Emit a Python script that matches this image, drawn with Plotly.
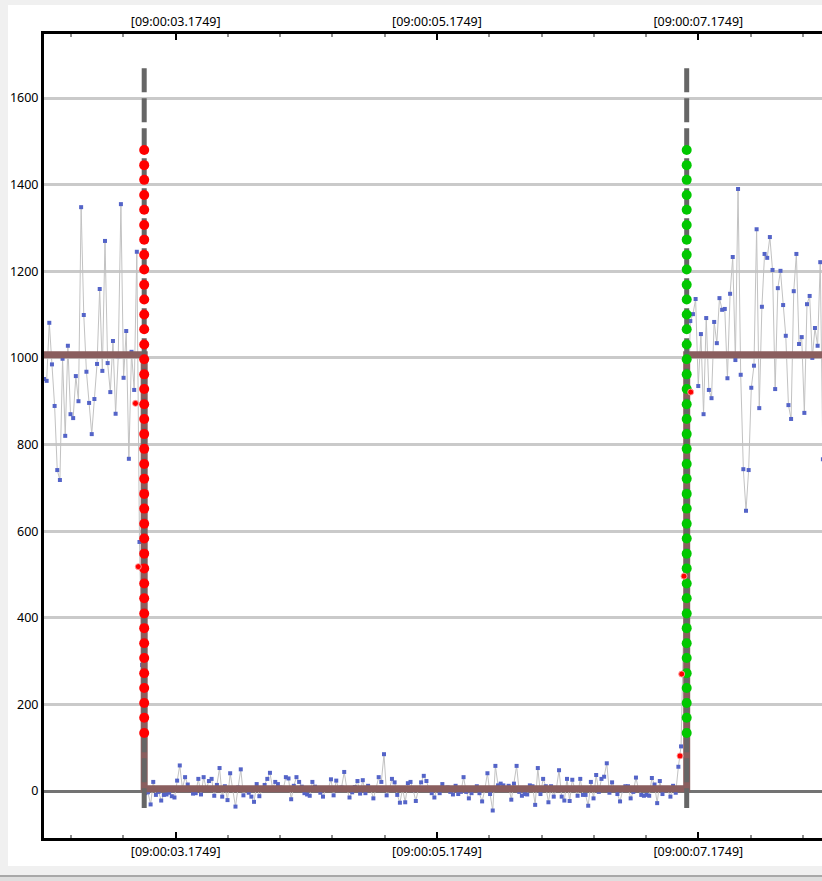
import plotly.graph_objects as go

# ---------------- data ----------------
TICK_TIMES = [3.1749, 5.1749, 7.1749]
TICK_LABELS = ["[09:00:03.1749]", "[09:00:05.1749]", "[09:00:07.1749]"]
Y_TICKS = [0, 200, 400, 600, 800, 1000, 1200, 1400, 1600]
X_RANGE = [2.1669, 8.1217]
Y_RANGE = [-108.5, 1747.8]

SAMPLE_DT = 0.0203
SEG_STARTS = [2.1669, 2.9422, 7.1137]

SIGNAL_BEFORE = [951, 947, 1081, 985, 889, 741, 718, 998, 820, 1028, 870, 861, 958, 900,
                 1348, 1099, 968, 896, 824, 905, 986, 1159, 970, 1270, 988, 921, 1039, 871,
                 1004, 1355, 954, 1062, 767, 1014, 926, 1245, 575, 291]

SIGNAL_PAUSE = [-5, -3, -31, 21, -9, -2, -22, -9, -8, -4, -12, -15, 24, 59, 6, 32, 15, 2, -6, -5,
                28, -8, 32, 5, 23, 28, -11, 14, 53, -13, 11, -21, 41, 5, -36, 8, 50, -10, 3, -4,
                -13, -25, 16, -12, 3, 14, 28, 42, 6, 21, 16, 8, 4, 32, 29, -19, 12, 32, 21, 10,
                -5, -8, -11, 21, 10, 2, -4, -13, 3, 6, 27, -10, 24, 2, 8, 44, 5, -15, -3, 9,
                23, -6, 25, -5, 12, 4, -17, 6, 32, 21, 85, -10, 3, 28, 20, -9, -27, 5, -26, 18,
                21, 2, -23, 5, 20,
                35, 23, 4, -5, -15, 6, -5, 16, 3, 8, -2, -8, 12, -7, -2, 32, -2, -17, -5, 6,
                11, -5, -24, 3, 41, -7, -45, 58, 13, 17, 13, 5, 12, -20, 17, 58, -2, -11, -7, -8,
                13, 11, -32, 53, -7, 28, 11, -26, 11, -13, 6, 48, -13, -22, 28, -23, 26, 4, -11, 28,
                -9, -9, -34, 21, -17, 37, -2, 28, 33, 64, -4, 20, 3, -7, -24, 2, 11, 11, -17, -2,
                31, 3, -9, -11, -9, -11, 30, 15, -28, 23, -7, 5, 2, -13, 12, -4, 56, 103]

SIGNAL_AFTER = [1085, 1101, 1136, 935, 1055, 870, 1092, 926, 907, 1083, 1034, 1138, 1111, 1113,
                953, 1148, 1233, 995, 1390, 961, 743, 647, 741, 931, 982, 1297, 884, 1118, 1240,
                1231, 1279, 1203, 928, 1161, 1201, 1122, 1051, 891, 859, 1154, 1240, 1032, 1048,
                873, 1124, 1143, 1000, 1069, 1028, 1221, 766, 1111]

CHANGE_TIMES = [2.9338, 7.0861]
LEVEL_VALUES = [1007, 5, 1007, 1007]
CHANGE_LINE_SPAN = [1669, -39]
COLUMN_LEVELS = [134, 169, 203, 238, 272, 307, 341, 376, 410, 445, 479, 514, 548, 583, 617,
                 652, 686, 721, 755, 790, 824, 859, 893, 928, 962, 997, 1031, 1066, 1100,
                 1135, 1169, 1204, 1238, 1273, 1307, 1342, 1376, 1411, 1445, 1480]
COLUMN_COLORS = ["#ff0000", "#00c800"]

OUTLIER_TIMES = [2.8672, 2.8886, 7.1167, 7.0655, 7.0478, 7.0348]
OUTLIER_VALUES = [895, 518, 921, 496, 270, 81]

# ---------------- build ----------------
sig_t, sig_v = [], []
for start, seg in zip(SEG_STARTS, [SIGNAL_BEFORE, SIGNAL_PAUSE, SIGNAL_AFTER]):
    sig_t += [start + i * SAMPLE_DT for i in range(len(seg))]
    sig_v += seg

fig = go.Figure()

fig.add_trace(go.Scatter(
    x=sig_t, y=sig_v, mode="lines+markers",
    line=dict(color="#c2c2c2", width=1),
    marker=dict(symbol="square", size=4, color="#5464c8"),
    hoverinfo="skip", showlegend=False))

step_x = [X_RANGE[0] - 0.05, CHANGE_TIMES[0], CHANGE_TIMES[1], X_RANGE[1] + 0.05]
fig.add_trace(go.Scatter(
    x=step_x, y=LEVEL_VALUES, mode="lines", line_shape="hv",
    line=dict(color="#8a5e5e", width=7),
    hoverinfo="skip", showlegend=False))

for t in CHANGE_TIMES:
    fig.add_trace(go.Scatter(
        x=[t, t], y=CHANGE_LINE_SPAN, mode="lines",
        line=dict(color="#666666", width=5, dash="24px,6px"),
        hoverinfo="skip", showlegend=False))

for t, c in zip(CHANGE_TIMES, COLUMN_COLORS):
    fig.add_trace(go.Scatter(
        x=[t] * len(COLUMN_LEVELS), y=COLUMN_LEVELS, mode="markers",
        marker=dict(symbol="circle", size=10, color=c),
        hoverinfo="skip", showlegend=False))

fig.add_trace(go.Scatter(
    x=OUTLIER_TIMES, y=OUTLIER_VALUES, mode="markers",
    marker=dict(symbol="circle", size=6, color="#ff0000",
                line=dict(color="rgba(255,160,160,0.9)", width=1)),
    hoverinfo="skip", showlegend=False))

# dummy trace for the top axis
fig.add_trace(go.Scatter(x=[X_RANGE[0]], y=[None], xaxis="x2", mode="markers",
                         showlegend=False, hoverinfo="skip"))

FONT = dict(family="Noto Sans", size=12.5, color="#000000")

xcommon = dict(
    range=X_RANGE, tickmode="array", tickvals=TICK_TIMES, ticktext=TICK_LABELS,
    ticks="inside", ticklen=6, tickwidth=2, tickcolor="#000000",
    minor=dict(ticks="inside", tick0=TICK_TIMES[0], dtick=0.4, ticklen=3,
               tickwidth=2, tickcolor="#909090", showgrid=False),
    showline=True, linewidth=3, linecolor="#000000",
    showgrid=False, zeroline=False, tickfont=FONT, fixedrange=True)

fig.update_layout(
    width=822, height=881,
    margin=dict(l=44, r=0, t=34, b=43, pad=0),
    paper_bgcolor="#f0f0f0", plot_bgcolor="#ffffff",
    xaxis=dict(**xcommon, side="bottom"),
    xaxis2=dict(**xcommon, side="top", overlaying="x", matches="x"),
    yaxis=dict(range=Y_RANGE, tickmode="array", tickvals=Y_TICKS,
               ticks="", showgrid=True, gridcolor="#cacaca", gridwidth=3,
               zeroline=True, zerolinecolor="#737373", zerolinewidth=3,
               showline=True, linewidth=3, linecolor="#000000",
               tickfont=FONT, fixedrange=True),
    showlegend=False,
    shapes=[
        dict(type="rect", xref="paper", yref="paper", layer="below",
             x0=-0.0463, x1=1.02, y0=-0.0348, y1=1.0361,
             fillcolor="#ffffff", line=dict(width=0)),
        dict(type="rect", xref="paper", yref="paper", layer="below",
             x0=-0.07, x1=1.02, y0=-0.0460, y1=-0.0485,
             fillcolor="#a8a8a8", line=dict(width=0)),
        dict(type="rect", xref="paper", yref="paper", layer="below",
             x0=-0.07, x1=1.02, y0=-0.0485, y1=-0.06,
             fillcolor="#dedede", line=dict(width=0)),
    ],
)

fig.write_html(
    "out.html",
    config={"displayModeBar": False},
    post_script="document.body.style.margin='0';document.body.style.overflow='hidden';"
                "document.body.style.background='#f0f0f0';",
)
